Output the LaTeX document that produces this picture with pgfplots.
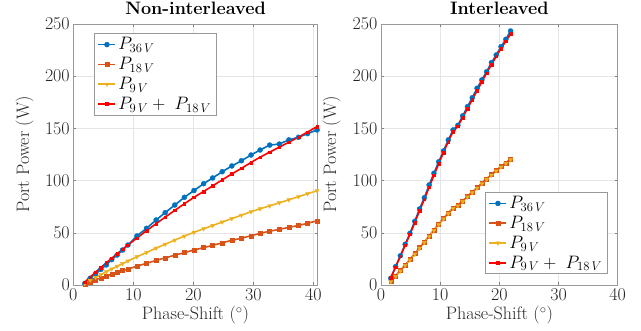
\documentclass[border=0pt]{standalone}
\usepackage{fix-cm}
\usepackage{fontspec}
\usepackage{pgfplots}
\usepackage{pgfplotstable}
\pgfplotsset{compat=1.18}
\definecolor{mblue}{rgb}{0,0.447,0.741}
\definecolor{morange}{rgb}{0.85,0.325,0.098}
\definecolor{myellow}{rgb}{0.929,0.694,0.125}
\definecolor{mred}{rgb}{1,0,0}
\definecolor{mtext}{rgb}{0.15,0.15,0.15}

\pgfplotstableread{
x    p36   p18   p9    psum
1.9  1.5   1.2   1.5   2.7
2.8  6.4   3.0   4.5   7.5
3.7  10.5  5.0   7.3   12.3
4.6  15.0  6.8   10.0  16.8
5.5  19.2  8.6   12.7  21.3
6.4  24.3  10.3  15.3  25.6
7.3  28.7  12.0  17.9  29.9
8.2  33.5  13.7  20.5  34.2
9.1  38.3  15.3  23.0  38.3
10.6 47.0  18.0  27.0  45.0
12.2 54.3  20.8  31.2  52.0
13.8 62.3  23.5  35.3  58.8
15.3 69.3  26.0  39.0  65.0
16.9 76.6  28.5  43.0  71.5
18.5 84.0  31.0  46.8  77.8
20.1 90.5  33.5  50.5  84.0
21.7 97.0  35.8  53.8  89.6
23.2 102.5 37.9  57.0  94.9
24.8 108.5 40.4  60.3  100.7
26.4 114.0 42.8  63.6  106.4
28.0 119.0 44.8  66.9  111.7
29.6 124.5 47.2  70.2  117.4
31.1 129.3 49.4  73.0  122.4
32.7 134.0 51.5  75.8  127.3
34.3 135.0 53.3  78.7  132.0
35.9 139.0 55.2  81.6  136.8
37.5 141.5 57.0  84.6  141.6
39.0 145.0 59.1  87.4  146.5
40.6 148.5 61.5  90.3  151.8
}\nonint

\pgfplotstableread{
x     p36   p18   p9    psum
1.65  6.4   3.8   3.2   7.0
2.46  17.6  8.8   8.2   17.0
3.27  28.0  14.1  13.4  27.5
4.08  39.0  19.3  18.7  38.0
4.89  49.5  24.6  23.9  48.5
5.70  61.0  30.1  29.4  59.5
6.51  72.8  35.8  35.2  71.0
7.32  83.6  41.3  40.7  82.0
8.13  95.8  47.1  46.4  93.5
8.94  107.0 52.8  52.2  105.0
9.75  118.0 58.3  57.7  116.0
10.56 128.4 63.8  63.2  127.0
11.37 139.0 69.1  68.4  137.5
12.18 148.5 73.8  73.2  147.0
12.99 153.0 76.3  75.7  152.0
13.80 162.0 80.6  79.9  160.5
14.61 170.8 84.8  84.2  169.0
15.42 179.4 89.1  88.4  177.5
16.23 188.4 93.3  92.7  186.0
17.04 196.4 97.6  96.9  194.5
17.85 204.3 101.8 101.2 203.0
18.66 213.0 105.8 105.2 211.0
19.47 220.3 109.8 109.2 219.0
20.28 228.3 113.6 112.9 226.5
21.09 235.3 117.1 116.4 233.5
21.90 243.3 120.6 119.9 240.5
}\inter

\pgfplotsset{
  myaxis/.style={
    scale only axis, height=261pt,
    ymin=0, ymax=250, ytick={0,50,100,150,200,250},
    xtick={0,10,20,30,40},
    grid=major, major grid style={black!10, line width=0.5pt},
    axis line style={black!40, line width=0.6pt},
    tick style={black!50, line width=0.5pt}, tick align=inside, major tick length=3pt,
    font=\fontsize{18}{21}\selectfont,
    tick label style={font=\fontsize{18}{21}\selectfont, text=mtext},
    label style={text=mtext, font=\fontsize{18}{21}\selectfont},
    title style={font=\fontsize{18}{21}\selectfont\bfseries, at={(0.5,1)}, anchor=base, yshift=3pt, text=black},
    xlabel={Phase-Shift $(^\circ)$},
    ylabel={Port Power (W)},
    xlabel style={at={(axis description cs:0.5,-0.134)}, anchor=base},
    legend style={font=\fontsize{18}{21}\selectfont, draw=black!40, fill=white, line width=0.6pt, inner xsep=3pt, inner ysep=2pt, row sep=2pt, text=black},
    legend cell align=left,
    every axis plot/.append style={line width=1.6pt},
  },
  s36/.style={color=mblue, mark=*, mark size=2.5pt, mark options={line width=0.4pt}},
  s18/.style={color=morange, mark=square*, mark size=2pt, mark options={line width=0.4pt}},
  s9/.style={color=myellow, mark=triangle*, mark size=2.3pt, mark options={rotate=180, line width=0.4pt}},
  ssum/.style={color=mred, mark=square*, mark size=1.3pt, mark options={line width=0.4pt}},
}

\begin{document}
\begin{tikzpicture}
\useasboundingbox (0,0) rectangle (641pt,331pt);
\begin{axis}[myaxis, at={(73.3pt,46pt)}, anchor=south west, width=244.4pt,
  xmin=0, xmax=40.7, title={Non-interleaved},
  ylabel style={at={(axis description cs:-0.181,0.5)}, anchor=base},
  legend style={at={(0.086,0.964)}, anchor=north west}]
\addplot[s36] table[x=x, y=p36] {\nonint};
\addlegendentry{$P_{36\,V}$}
\addplot[s18] table[x=x, y=p18] {\nonint};
\addlegendentry{$P_{18\,V}$}
\addplot[s9] table[x=x, y=p9] {\nonint};
\addlegendentry{$P_{9\,V}$}
\addplot[ssum] table[x=x, y=psum] {\nonint};
\addlegendentry{$P_{9\,V} +\ P_{18\,V}$}
\end{axis}
\begin{axis}[myaxis, at={(381pt,46pt)}, anchor=south west, width=236.7pt,
  xmin=0, xmax=40, title={Interleaved},
  ylabel style={at={(axis description cs:-0.19,0.5)}, anchor=base},
  legend style={at={(0.956,0.042)}, anchor=south east}]
\addplot[s36] table[x=x, y=p36] {\inter};
\addlegendentry{$P_{36\,V}$}
\addplot[s18] table[x=x, y=p18] {\inter};
\addlegendentry{$P_{18\,V}$}
\addplot[s9] table[x=x, y=p9] {\inter};
\addlegendentry{$P_{9\,V}$}
\addplot[ssum] table[x=x, y=psum] {\inter};
\addlegendentry{$P_{9\,V} +\ P_{18\,V}$}
\end{axis}
\end{tikzpicture}
\end{document}
